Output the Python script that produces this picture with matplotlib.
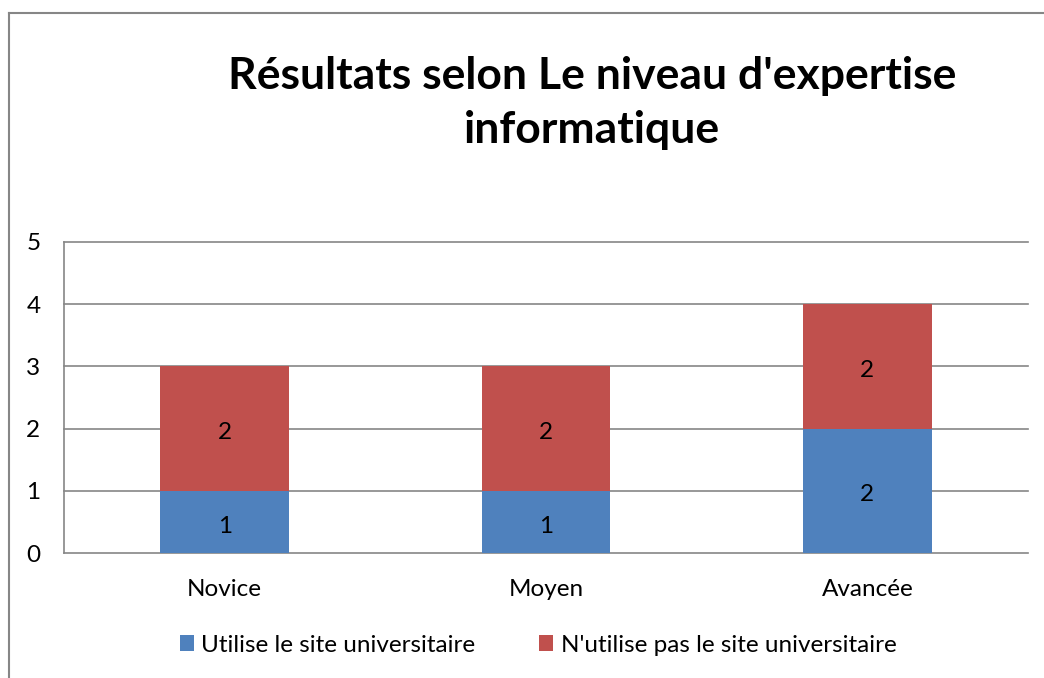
import matplotlib
matplotlib.use("Agg")
import matplotlib.pyplot as plt
from matplotlib.patches import Patch
from matplotlib.lines import Line2D

categories = ["Novice", "Moyen", "Avancée"]
utilise = [1, 1, 2]
n_utilise_pas = [2, 2, 2]
series_names = ["Utilise le site universitaire", "N'utilise pas le site universitaire"]
title = "Résultats selon Le niveau d'expertise\ninformatique"
yticks = [0, 1, 2, 3, 4, 5]

BLUE = "#4F81BD"
RED = "#C0504D"
GRID = "#868686"
FONT = ["Lato", "DejaVu Sans"]
FS = 17.5

plt.rcParams["font.family"] = FONT

W, H = 1044, 678
fig = plt.figure(figsize=(W / 100, H / 100), dpi=100)
fig.patch.set_facecolor("white")

ax = fig.add_axes([64 / W, 1 - 553 / H, (1028 - 64) / W, (553 - 242) / H])

x = list(range(len(categories)))
b1 = ax.bar(x, utilise, width=0.4, color=BLUE, zorder=3)
b2 = ax.bar(x, n_utilise_pas, width=0.4, bottom=utilise, color=RED, zorder=3)
ax.bar_label(b1, labels=[str(v) for v in utilise], label_type="center", fontsize=FS,
             color="black", padding=-3)
ax.bar_label(b2, labels=[str(v) for v in n_utilise_pas], label_type="center", fontsize=FS,
             color="black", padding=-3)

ax.set_xlim(-0.5, len(categories) - 0.5)
ax.set_ylim(0, 5)
ax.set_yticks(yticks)
ax.set_xticks(x)
ax.set_xticklabels(categories)
ax.tick_params(axis="both", length=0, labelsize=FS)
ax.tick_params(axis="y", pad=17)
ax.tick_params(axis="x", pad=19)
ax.grid(axis="y", color=GRID, linewidth=1.2, zorder=0)
for s in ["top", "right", "bottom"]:
    ax.spines[s].set_visible(False)
ax.spines["left"].set_color(GRID)
ax.spines["left"].set_linewidth(1.2)
for gl in ax.get_ygridlines():
    gl.set_clip_on(False)

fig.text(592 / W, 1 - 103 / H, title, ha="center", va="center",
         fontsize=32, fontweight="bold", linespacing=1.45)

handles = [Patch(facecolor=BLUE), Patch(facecolor=RED)]
fig.legend(handles, series_names, loc="center", bbox_to_anchor=(538 / W, 1 - 645 / H),
           ncol=2, frameon=False, fontsize=FS, handlelength=0.6, handleheight=0.6,
           handletextpad=0.3, columnspacing=2.6)

# outer chart border (left and top visible)
fig.add_artist(Line2D([9 / W, 9 / W], [0, 1 - 13 / H], color=GRID, linewidth=1.5))
fig.add_artist(Line2D([9 / W, 1], [1 - 13 / H, 1 - 13 / H], color=GRID, linewidth=1.5))

fig.savefig("out.png", dpi=100)
